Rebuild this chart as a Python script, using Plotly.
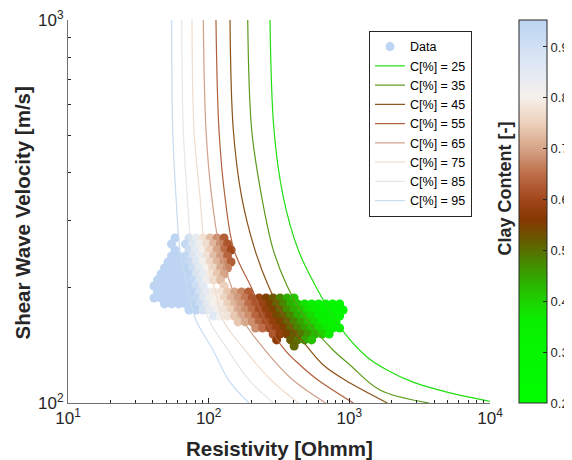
import plotly.graph_objects as go

# ---------------- scatter data (Resistivity [Ohmm], Vs [m/s], clay content [-]) ----------------
res = [
    57.65, 72.51, 81.33, 91.21, 102.3, 114.7, 128.7,
    54.44, 68.47, 76.79, 86.13, 96.59, 108.3, 121.5, 136.2,
    57.65, 72.51, 81.33, 91.21, 102.3, 114.7, 128.7, 144.3,
    54.44, 61.06, 68.47, 76.79, 86.13, 96.59, 108.3, 121.5, 136.2,
    51.41, 57.65, 64.66, 72.51, 81.33, 91.21, 102.3, 114.7, 128.7, 144.3,
    48.54, 54.44, 61.06, 68.47, 76.79, 86.13, 96.59, 108.3, 121.5, 136.2,
    45.84, 51.41, 57.65, 64.66, 72.51, 81.33, 91.21, 102.3, 114.7, 128.7,
    43.28, 48.54, 54.44, 61.06, 68.47, 76.79, 86.13, 96.59, 108.3, 121.5,
    40.87, 45.84, 51.41, 57.65, 64.66, 72.51, 81.33, 91.21, 128.7,
    43.28, 48.54, 54.44, 61.06, 68.47, 76.79, 86.13, 96.59, 108.3, 121.5, 136.2, 152.8, 171.4, 192.2,
    40.87, 45.84, 51.41, 57.65, 64.66, 72.51, 81.33, 91.21, 102.3, 114.7, 128.7, 144.3, 161.8, 181.5,
    203.6, 228.3, 256.0, 287.1, 322.0, 361.1, 405.0,
    48.54, 54.44, 61.06, 68.47, 76.79, 86.13, 96.59, 108.3, 121.5, 136.2, 152.8, 171.4, 192.2, 215.6,
    241.8, 271.1, 304.1, 341.0, 382.5, 428.9, 481.1, 539.5, 605.0, 678.5, 761.0, 853.4,
    72.51, 81.33, 91.21, 102.3, 114.7, 128.7, 144.3, 161.8, 181.5, 203.6, 228.3, 256.0, 287.1, 322.0,
    361.1, 405.0, 454.3, 509.4, 571.3, 640.7, 718.6, 805.9, 903.8,
    108.3, 121.5, 136.2, 152.8, 171.4, 192.2, 215.6, 241.8, 271.1, 304.1, 341.0, 382.5, 428.9, 481.1,
    539.5, 605.0, 678.5, 761.0, 853.4,
    161.8, 181.5, 203.6, 228.3, 256.0, 287.1, 322.0, 361.1, 405.0, 454.3, 509.4, 571.3, 640.7, 718.6, 805.9,
    215.6, 241.8, 271.1, 304.1, 341.0, 382.5, 428.9, 481.1, 539.5, 605.0, 678.5, 761.0, 853.4,
    287.1, 322.0, 361.1, 405.0, 454.3, 509.4, 571.3, 640.7, 718.6,
    304.1, 382.5, 428.9, 481.1, 539.5,
    405.0,
]

vs = (
    [269.7] * 7 + [260.1] * 8 + [250.9] * 8 + [242.0] * 9 + [233.4] * 10 + [225.2] * 10 +
    [217.2] * 10 + [209.5] * 10 + [202.1] * 9 + [194.9] * 14 + [188.0] * 21 + [181.4] * 26 +
    [174.9] * 23 + [168.7] * 19 + [162.8] * 15 + [157.0] * 13 + [151.4] * 9 + [146.1] * 5 + [140.9] * 1
)

clay = [
    .95, .90, .84, .78, .73, .68, .63,
    .95, .93, .87, .82, .77, .72, .67, .62,
    .95, .91, .85, .80, .75, .70, .65, .60,
    .95, .95, .94, .88, .83, .78, .73, .69, .64,
    .95, .95, .95, .92, .87, .81, .76, .72, .68, .63,
    .95, .95, .95, .95, .91, .85, .80, .76, .71, .67,
    .95, .95, .95, .95, .95, .89, .84, .79, .74, .70,
    .95, .95, .95, .95, .95, .93, .87, .82, .77, .73,
    .95, .95, .95, .95, .95, .95, .91, .86, .75,
    .95, .95, .95, .95, .95, .95, .89, .84, .79, .78, .74, .70, .67, .63,
    .95, .95, .95, .95, .95, .95, .93, .87, .82, .80, .76, .72, .69, .66, .62, .59, .55, .52, .48, .44, .41,
    .95, .95, .95, .95, .95, .91, .85, .80, .79, .75, .72, .69, .65, .62, .59, .55, .51, .48, .44, .41,
    .38, .36, .34, .31, .29, .26,
    .95, .95, .89, .84, .82, .78, .75, .71, .68, .65, .61, .58, .55, .51, .47, .44, .41, .38, .36, .34,
    .31, .29, .27,
    .86, .81, .78, .74, .71, .68, .64, .61, .58, .54, .51, .48, .44, .41, .39, .36, .34, .32, .29,
    .74, .71, .68, .64, .61, .58, .55, .51, .48, .45, .41, .39, .36, .34, .32,
    .68, .65, .61, .58, .55, .51, .48, .45, .42, .39, .37, .34, .32,
    .62, .58, .55, .52, .49, .46, .43, .40, .37,
    .57, .52, .50, .45, .42,
    .51,
]

# ---------------- model curves for constant clay content ----------------
curve_names = ["C[%] = 25", "C[%] = 35", "C[%] = 45", "C[%] = 55",
               "C[%] = 65", "C[%] = 75", "C[%] = 85", "C[%] = 95"]

c25_r = [272.9, 291.4, 339.3, 433.8, 570.1, 858.3, 1335, 1852, 2836, 4948, 9676, 10500]
c25_v = [1000, 516.2, 345.0, 250.8, 203.3, 157.9, 131.9, 122.0, 113.4, 106.8, 101.2, 100.6]
c35_r = [189.5, 202.3, 238.3, 288.1, 358.6, 476.1, 765.6, 1011, 1652, 3703]
c35_v = [1000, 516.2, 345.0, 250.8, 203.3, 168.7, 137.5, 125.7, 108.1, 100]
c45_r = [141.8, 149.7, 171.7, 213.5, 264.1, 340.4, 525.3, 653.0, 931.5, 1862]
c45_v = [1000, 516.2, 345.0, 250.8, 203.3, 168.7, 137.5, 125.7, 114.8, 100]
c55_r = [112.7, 118.4, 130.6, 151.4, 205.0, 251.4, 348.8, 445.9, 598.8, 1067]
c55_v = [1000, 516.2, 345.0, 250.8, 197.3, 164.8, 137.5, 125.7, 114.8, 100]
c65_r = [91.59, 95.72, 105.1, 120.4, 147.7, 175.4, 251.4, 397.7, 679.2]
c65_v = [1000, 516.2, 345.0, 250.8, 197.3, 164.8, 137.5, 114.8, 100]
c75_r = [76.12, 78.66, 86.78, 94.17, 110.9, 126.4, 181.3, 277.4, 433.8]
c75_v = [1000, 516.2, 345.0, 250.8, 197.3, 164.8, 137.5, 114.8, 100]
c85_r = [64.31, 66.01, 70.48, 75.74, 88.22, 100.6, 137.2, 193.5, 288.1]
c85_v = [1000, 516.2, 345.0, 250.8, 197.3, 164.8, 137.5, 114.8, 100]
c95_r = [54.61, 55.51, 58.60, 62.56, 71.31, 81.24, 107.4, 138.5, 193.5]
c95_v = [1000, 516.2, 345.0, 250.8, 197.3, 164.8, 137.5, 114.8, 100]

curve_r = [c25_r, c35_r, c45_r, c55_r, c65_r, c75_r, c85_r, c95_r]
curve_v = [c25_v, c35_v, c45_v, c55_v, c65_v, c75_v, c85_v, c95_v]
curve_colors = ["#22dd11", "#5c9a1c", "#8a5218", "#b0603c",
                "#d0a08a", "#f0dccc", "#e6e6e6", "#c8dcf2"]

# ---------------- axes ticks ----------------
x_tickvals = [10, 100, 1000, 10000]
x_ticktext = ["10<sup>1</sup>", "10<sup>2</sup>", "10<sup>3</sup>", "10<sup>4</sup>"]
x_minor = [20, 30, 40, 50, 60, 70, 80, 90, 200, 300, 400, 500, 600, 700, 800, 900,
           2000, 3000, 4000, 5000, 6000, 7000, 8000, 9000]
y_tickvals = [100, 1000]
y_ticktext = ["10<sup>2</sup>", "10<sup>3</sup>"]
y_minor = [200, 300, 400, 500, 600, 700, 800, 900]
cb_tickvals = [0.2, 0.3, 0.4, 0.5, 0.6, 0.7, 0.8, 0.9]

colorscale = [
    [0.0, "#00ff00"], [0.2125, "#08f000"], [0.2656, "#1ed200"], [0.3187, "#2eae00"],
    [0.3718, "#4a8400"], [0.4250, "#675a00"], [0.4781, "#853800"], [0.5312, "#a2461c"],
    [0.5976, "#bd6e48"], [0.6640, "#d6a486"], [0.7304, "#ecd0bc"], [0.7968, "#f6f0ea"],
    [0.8765, "#e0e9f4"], [1.0, "#bcd4f2"],
]

FONT = "Liberation Sans, Arial, Helvetica, sans-serif"
TXT = "#262626"

fig = go.Figure()

fig.add_trace(go.Scatter(
    x=res, y=vs, mode="markers", name="Data",
    marker=dict(
        size=9, color=clay, colorscale=colorscale, cmin=0.2, cmax=0.953,
        line=dict(width=0),
        showscale=True,
        colorbar=dict(
            x=1.0687, xanchor="left", xpad=0, ypad=0,
            y=0.5, yanchor="middle", len=1, lenmode="fraction",
            thickness=28, thicknessmode="pixels",
            outlinewidth=1, outlinecolor=TXT,
            tickmode="array", tickvals=cb_tickvals,
            ticks="inside", ticklen=4, tickcolor=TXT,
            tickfont=dict(family=FONT, size=13, color=TXT),
        ),
    ),
))

for name, rr, vv, col in zip(curve_names, curve_r, curve_v, curve_colors):
    fig.add_trace(go.Scatter(
        x=rr, y=vv, mode="lines", name=name,
        line=dict(color=col, width=1.2, shape="spline", smoothing=1.0),
    ))

fig.update_layout(
    width=564, height=452,
    margin=dict(l=60, r=82, t=12, b=57, autoexpand=False),
    paper_bgcolor="white", plot_bgcolor="white",
    font=dict(family=FONT, color=TXT),
    showlegend=True,
    legend=dict(
        x=0.7133, y=0.9713, xanchor="left", yanchor="top",
        bgcolor="white", bordercolor=TXT, borderwidth=1,
        font=dict(family=FONT, size=12.5, color="#000000"),
        itemwidth=30, tracegroupgap=0,
    ),
    xaxis=dict(
        type="log", range=[1, 4], showgrid=False, zeroline=False,
        showline=True, linecolor="#707070", linewidth=1, mirror=False,
        ticks="inside", ticklen=5, tickcolor=TXT, tickwidth=1,
        tickmode="array", tickvals=x_tickvals, ticktext=x_ticktext,
        tickfont=dict(family=FONT, size=17, color=TXT),
        ticklabeloverflow="allow",
        minor=dict(ticks="inside", ticklen=3, tickcolor=TXT, tickmode="array",
                   tickvals=x_minor, showgrid=False),
    ),
    yaxis=dict(
        type="log", range=[2, 3], showgrid=False, zeroline=False,
        showline=True, linecolor="#707070", linewidth=1, mirror=False,
        ticks="inside", ticklen=5, tickcolor=TXT, tickwidth=1,
        tickmode="array", tickvals=y_tickvals, ticktext=y_ticktext,
        tickfont=dict(family=FONT, size=17, color=TXT),
        ticklabeloverflow="allow",
        minor=dict(ticks="inside", ticklen=3, tickcolor=TXT, tickmode="array",
                   tickvals=y_minor, showgrid=False),
    ),
    annotations=[
        dict(text="<b>Resistivity [Ohmm]</b>", xref="paper", yref="paper",
             x=0.5, y=-0.1201, xanchor="center", yanchor="middle", showarrow=False,
             font=dict(family=FONT, size=20.5, color=TXT)),
        dict(text="<b>Shear Wave Velocity [m/s]</b>", xref="paper", yref="paper",
             x=-0.109, y=0.4948, xanchor="center", yanchor="middle", showarrow=False,
             textangle=-90, font=dict(family=FONT, size=20.5, color=TXT)),
        dict(text="<b>Clay Content [-]</b>", xref="paper", yref="paper",
             x=1.0355, y=0.56, xanchor="center", yanchor="middle", showarrow=False,
             textangle=-90, font=dict(family=FONT, size=18, color=TXT)),
    ],
)

fig.write_html("out.html")
